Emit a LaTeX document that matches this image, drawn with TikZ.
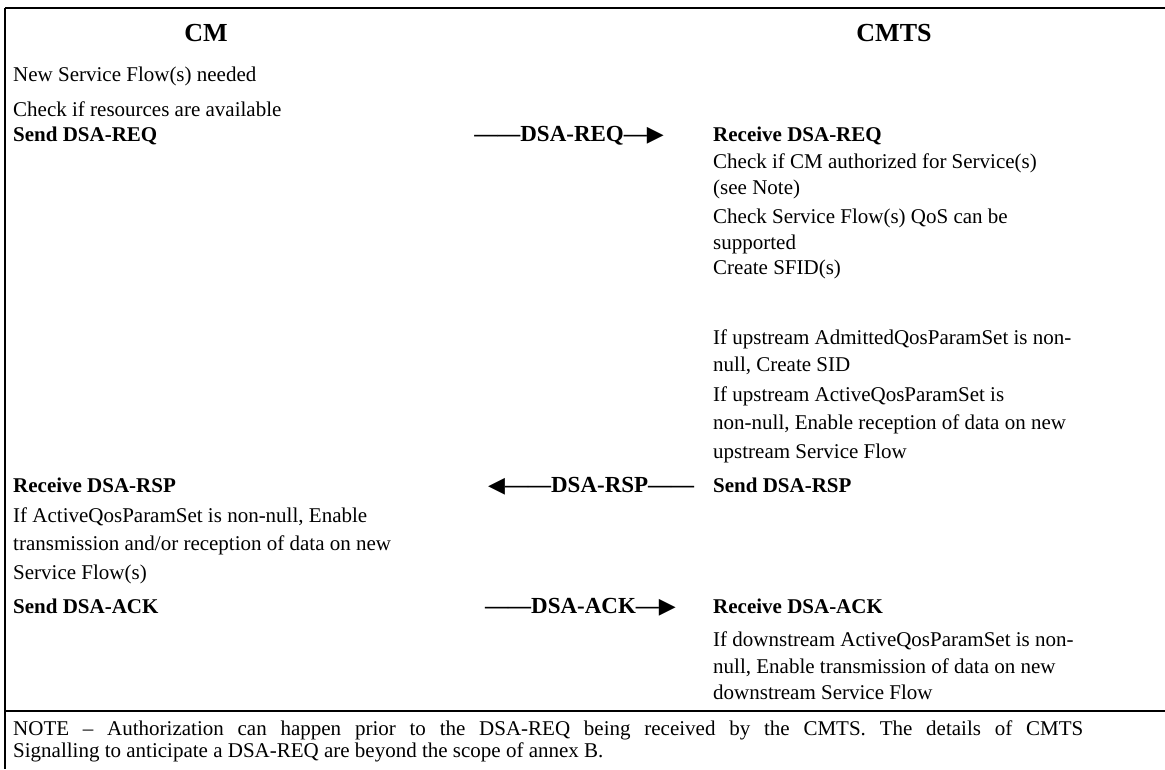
\documentclass[tikz,border=0pt]{standalone}
\usepackage{fontspec}
\setmainfont{Liberation Serif}
\newfontfamily\symfont{DejaVu Sans}
\newcommand{\rtri}{{\symfont\fontsize{22}{25}\selectfont ▶}}
\newcommand{\ltri}{{\symfont\fontsize{22}{25}\selectfont ◀}}
\begin{document}
\begin{tikzpicture}[x=1pt,y=-1pt,
  txt/.style={anchor=base west, inner sep=0pt, font=\fontsize{21}{25}\selectfont},
  btxt/.style={anchor=base west, inner sep=0pt, font=\fontsize{21}{25}\selectfont\bfseries},
  msg/.style={inner sep=0pt, font=\fontsize{23}{27}\selectfont\bfseries},
  head/.style={anchor=base, inner sep=0pt, font=\fontsize{26}{30}\selectfont\bfseries},
  rule/.style={line width=2.6pt}]
\useasboundingbox (0,0) rectangle (1165,769);
\fill[white] (0,0) rectangle (1165,769);
% frame lines
\coordinate (tl) at (5,8);
\coordinate (tr) at (1165,8);
\coordinate (bl) at (5,769);
\coordinate (sl) at (5,711);
\coordinate (sr) at (1165,711);
\draw[rule] (tl) -- (tr);
\draw[rule] (tl) -- (bl);
\draw[rule] (sl) -- (sr);
% headings
\node[head] (cm) at (206,41) {CM};
\node[head] (cmts) at (894,41) {CMTS};
% CM column
\node[txt] (l1) at (13,81) {New Service Flow(s) needed};
\node[txt] (l2) at (13,116) {Check if resources are available};
\node[btxt] (l3) at (13,141) {Send DSA-REQ};
\node[btxt] (l4) at (13,492) {Receive DSA-RSP};
\node[txt] (l5) at (13,522) {If ActiveQosParamSet is non-null, Enable};
\node[txt] (l6) at (13,550) {transmission and/or reception of data on new};
\node[txt] (l7) at (13,579) {Service Flow(s)};
\node[btxt] (l8) at (13,613) {Send DSA-ACK};
% messages
\node[msg, anchor=base east] (m1) at (664,141) {——DSA-REQ—\rtri};
\node[msg, anchor=base west] (m2) at (488,492) {\ltri——DSA-RSP——};
\node[msg, anchor=base west] (m3) at (485,613) {——DSA-ACK—\rtri};
% CMTS column
\node[btxt] (r1) at (713,141) {Receive DSA-REQ};
\node[txt] (r2) at (713,168) {Check if CM authorized for Service(s)};
\node[txt] (r3) at (713,194) {(see Note)};
\node[txt] (r4) at (713,223) {Check Service Flow(s) QoS can be};
\node[txt] (r5) at (713,249) {supported};
\node[txt] (r6) at (713,274) {Create SFID(s)};
\node[txt] (r7) at (713,344) {If upstream AdmittedQosParamSet is non-};
\node[txt] (r8) at (713,371) {null, Create SID};
\node[txt] (r9) at (713,401) {If upstream ActiveQosParamSet is};
\node[txt] (r10) at (713,429) {non-null, Enable reception of data on new};
\node[txt] (r11) at (713,458) {upstream Service Flow};
\node[btxt] (r12) at (713,492) {Send DSA-RSP};
\node[btxt] (r13) at (713,613) {Receive DSA-ACK};
\node[txt] (r14) at (713,646) {If downstream ActiveQosParamSet is non-};
\node[txt] (r15) at (713,673) {null, Enable transmission of data on new};
\node[txt] (r16) at (713,699) {downstream Service Flow};
% note
\node[txt] (n1) at (13,735) {\makebox[1070pt][s]{NOTE – Authorization can happen prior to the DSA-REQ being received by the CMTS. The details of CMTS}};
\node[txt] (n2) at (13,757) {Signalling to anticipate a DSA-REQ are beyond the scope of annex B.};
\end{tikzpicture}
\end{document}
